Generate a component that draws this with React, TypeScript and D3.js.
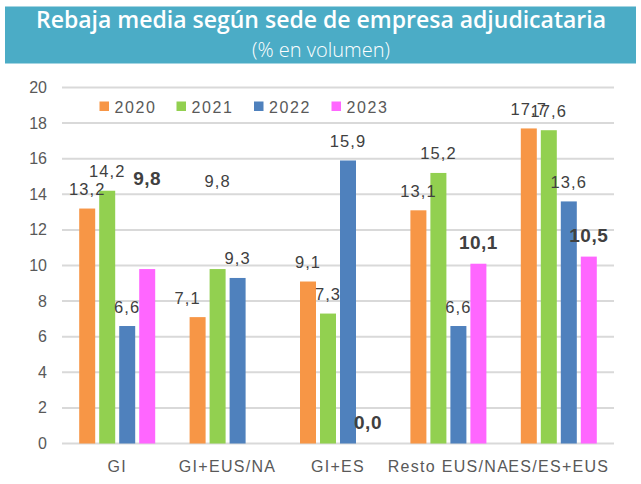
import React from "react";
import * as d3 from "d3";

const categories = ["GI", "GI+EUS/NA", "GI+ES", "Resto EUS/NA", "ES/ES+EUS"];
const years = ["2020", "2021", "2022", "2023"];
const values2020 = [13.2, 7.1, 9.1, 13.1, 17.7];
const values2021 = [14.2, 9.8, 7.3, 15.2, 17.6];
const values2022 = [6.6, 9.3, 15.9, 6.6, 13.6];
const values2023: (number | null)[] = [9.8, null, 0.0, 10.1, 10.5];
const yTicks = [0, 2, 4, 6, 8, 10, 12, 14, 16, 18, 20];
const colors = ["#F79646", "#92D050", "#4F81BD", "#FF66FF"];
const title = "Rebaja media según sede de empresa adjudicataria";
const subtitle = "(% en volumen)";

const W = 641;
const H = 484;
const FONT = "'Liberation Sans', Arial, sans-serif";

export default function App() {
  const series = [values2020, values2021, values2022, values2023];
  const x = d3.scaleBand<string>().domain(categories).range([62, 614]).paddingInner(0).paddingOuter(0);
  const xi = d3.scaleBand<string>().domain(years).range([0, 76]).paddingInner(0.2).paddingOuter(0);
  const y = d3.scaleLinear().domain([0, 20]).range([443.5, 87.5]);
  const fmt = (v: number) => v.toFixed(1).replace(".", ",");

  // manual label adjustments (as in the original, some labels were moved)
  const nudge = (si: number, ci: number) => {
    if (si === 3 && ci === 0) return { dx: 0, dy: -69 };
    if (si === 1 && ci === 1) return { dx: 0, dy: -69 };
    if (si === 0 && ci === 1) return { dx: -10, dy: 0 };
    return { dx: 0, dy: 0 };
  };

  const legendX = [99.5, 176.5, 254, 331.5];

  return (
    <svg width={W} height={H} style={{ position: "absolute", left: 0, top: 0 }}>
      <rect x={0} y={0} width={W} height={H} fill="#ffffff" />
      <rect x={5} y={6.5} width={631} height={57} fill="#4BACC6" />
      <text x={321} y={27.5} textAnchor="middle" fill="#ffffff" fontFamily="'Open Sans', sans-serif" fontWeight={600} fontSize={23}>
        {title}
      </text>
      <text x={321} y={56.5} textAnchor="middle" fill="#ffffff" fontFamily="'Open Sans', sans-serif" fontWeight={300} fontSize={20}>
        {subtitle}
      </text>

      {yTicks.map((t) => (
        <g key={t}>
          <line x1={62} x2={614} y1={y(t)} y2={y(t)} stroke="#D9D9D9" strokeWidth={2} />
          <text x={47} y={y(t) + 5.5} textAnchor="end" fill="#595959" fontFamily={FONT} fontSize={16}>
            {t}
          </text>
        </g>
      ))}

      {series.map((vals, si) =>
        vals.map((v, ci) => {
          if (v === null || v === undefined) return null;
          const bx = (x(categories[ci]) as number) + x.bandwidth() / 2 - 38 + (xi(years[si]) as number);
          return (
            <rect key={`b${si}-${ci}`} x={bx} y={y(v)} width={xi.bandwidth()} height={y(0) - y(v)} fill={colors[si]} />
          );
        })
      )}

      {series.map((vals, si) =>
        vals.map((v, ci) => {
          if (v === null || v === undefined) return null;
          const cx = (x(categories[ci]) as number) + x.bandwidth() / 2 - 38 + (xi(years[si]) as number) + xi.bandwidth() / 2;
          const bold = si === 3;
          const n = nudge(si, ci);
          return (
            <text
              key={`l${si}-${ci}`}
              x={cx + n.dx}
              y={y(v) - (bold ? 15 : 13.5) + n.dy}
              textAnchor="middle"
              fill="#404040"
              fontFamily={FONT}
              fontSize={bold ? 19 : 16.5}
              fontWeight={bold ? 700 : 400}
              letterSpacing={bold ? 0.5 : 1.1}
            >
              {fmt(v)}
            </text>
          );
        })
      )}

      {categories.map((c) => (
        <text key={c} x={(x(c) as number) + x.bandwidth() / 2} y={471.5} textAnchor="middle" fill="#595959" fontFamily={FONT} fontSize={16} letterSpacing={1.3}>
          {c}
        </text>
      ))}

      {years.map((yr, i) => (
        <g key={yr}>
          <rect x={legendX[i]} y={101.5} width={9.5} height={9.5} fill={colors[i]} />
          <text x={legendX[i] + 15} y={113.3} fill="#595959" fontFamily={FONT} fontSize={16} letterSpacing={1.6}>
            {yr}
          </text>
        </g>
      ))}
    </svg>
  );
}
